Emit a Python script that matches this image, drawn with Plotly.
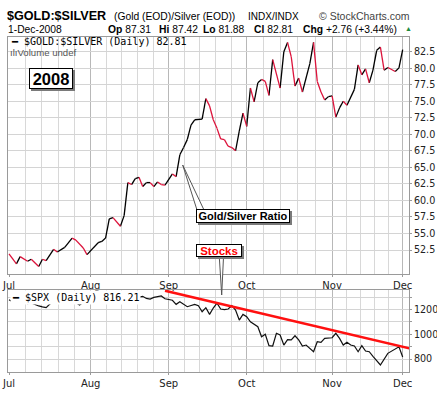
import plotly.graph_objects as go

# ---------------- data ----------------
month_labels = ["Jul", "Aug", "Sep", "Oct", "Nov", "Dec"]
month_start_day = [0, 22, 43, 64, 87, 106]   # trading-day index of first session of month

ratio_day = [0, 2, 3, 5, 6, 8, 9, 10, 12, 13,
             15, 17, 18, 20, 21, 24, 25, 26, 27, 28,
             30, 31, 32, 33, 34, 35, 36, 37, 38, 39,
             40, 41, 42, 44, 45, 46, 47, 48, 49, 50,
             52, 53, 54, 55, 56, 57, 58, 59, 60, 61,
             62, 63, 64, 65, 66, 67, 68, 69, 70, 71,
             73, 74, 75, 76, 77, 78, 79, 81, 82, 83,
             84, 85, 86, 87, 88, 89, 90, 91, 93, 94,
             95, 96, 97, 98, 99, 100, 101, 102, 104, 105,
             106]
ratio_value = [51.9, 50.4, 51.5, 50.8, 51.1, 50.0, 51.1, 50.9, 52.6, 52.2,
               52.9, 54.3, 54.0, 52.8, 51.8, 53.6, 53.8, 54.3, 57.2, 57.4,
               56.1, 57.7, 62.7, 62.4, 63.3, 63.5, 62.1, 62.7, 62.7, 62.1,
               62.8, 62.4, 62.3, 64.0, 63.6, 66.9, 68.0, 69.2, 71.4, 72.2,
               72.3, 75.4, 74.3, 72.2, 70.9, 69.3, 69.2, 68.2, 68.0, 67.5,
               70.5, 73.2, 71.2, 77.0, 74.9, 77.8, 78.3, 78.0, 75.9, 81.3,
               77.0, 82.5, 83.9, 81.7, 77.3, 78.5, 76.4, 80.7, 83.9, 78.0,
               76.4, 75.2, 75.7, 75.8, 72.6, 74.0, 75.0, 74.4, 76.8, 80.5,
               79.0, 79.9, 77.8, 79.7, 82.7, 83.2, 79.7, 80.1, 79.5, 80.05,
               82.81]

spx_day = list(range(0, 47)) + [48, 50, 51, 52, 53, 54, 55, 56, 57, 58, 59, 60, 61, 62, 63, 64, 65,
                                67, 68, 69, 70, 71, 72, 73, 74, 75, 76, 77, 78, 79, 80,
                                82, 83, 84, 85, 86, 87, 88, 89, 90, 91, 92, 93, 94, 95, 96, 97, 98, 99, 100,
                                102, 104, 105, 106]
spx_value = [1280, 1262, 1263, 1255, 1268, 1248, 1254, 1240, 1229, 1222,
             1216, 1245, 1260, 1261, 1260, 1275, 1280, 1254, 1257, 1236,
             1262, 1282, 1258, 1252, 1263, 1285, 1288, 1268, 1294, 1302,
             1290, 1286, 1292, 1290, 1284, 1300, 1307, 1290, 1285, 1298,
             1303, 1310, 1287, 1280, 1275, 1242, 1263,
             1223, 1242, 1231, 1182, 1215, 1161, 1212, 1252, 1204, 1200, 1204, 1231, 1196, 1115, 1161, 1142, 1101,
             1061, 980, 1000, 908, 905, 1008, 994, 913, 957, 955, 988, 954, 905, 913,
             859, 940, 935, 967, 972, 972, 1008, 967, 913, 935, 913, 905, 859, 908, 865, 859, 822, 786, 752,
             846, 881, 899, 816.21]

trend_day = [42, 109]
trend_value = [1352, 878]

ratio_ticks = [52.5, 55.0, 57.5, 60.0, 62.5, 65.0, 67.5, 70.0, 72.5, 75.0, 77.5, 80.0, 82.5]
spx_grid = [800, 900, 1000, 1100, 1200, 1300]
spx_labels = ["800", "", "1000", "", "1200", ""]

header_date = "1-Dec-2008"
ohlc_labels = ["Op", "Hi", "Lo", "Cl"]
ohlc_values = ["87.31", "87.42", "81.88", "82.81"]
chg_text = "+2.76 (+3.44%)"

# ---------------- geometry helpers (pixel -> paper) ----------------
PL, PR, PT, PB = 8, 409, 37, 372
PW, PH = PR - PL, PB - PT


def px(x):
    return (x - PL) / PW


def py(y):
    return (PB - y) / PH


UP_COLOR = "#000000"
DN_COLOR = "#dc143c"


def split_up_down(days, vals):
    ux, uy, dx, dy = [], [], [], []
    for i in range(len(days) - 1):
        sx = [days[i], days[i + 1], None]
        sy = [vals[i], vals[i + 1], None]
        if vals[i + 1] >= vals[i]:
            ux += sx
            uy += sy
        else:
            dx += sx
            dy += sy
    return ux, uy, dx, dy


ux, uy, dx, dy = split_up_down(ratio_day, ratio_value)

fig = go.Figure()
fig.add_trace(go.Scatter(x=ux, y=uy, mode="lines", line=dict(color=UP_COLOR, width=1.3),
                         xaxis="x", yaxis="y", hoverinfo="skip", showlegend=False))
fig.add_trace(go.Scatter(x=dx, y=dy, mode="lines", line=dict(color=DN_COLOR, width=1.3),
                         xaxis="x", yaxis="y", hoverinfo="skip", showlegend=False))
fig.add_trace(go.Scatter(x=spx_day, y=spx_value, mode="lines", line=dict(color="#111111", width=1.2),
                         xaxis="x2", yaxis="y2", hoverinfo="skip", showlegend=False))
fig.add_trace(go.Scatter(x=trend_day, y=trend_value, mode="lines", line=dict(color="#ff1010", width=2.6),
                         xaxis="x2", yaxis="y2", hoverinfo="skip", showlegend=False))

minor_vals = []
for a, b in zip(month_start_day[:-1], month_start_day[1:]):
    minor_vals += [a + (b - a) * k / 5 for k in range(1, 5)]

xtickfont = dict(family="DejaVu Sans", size=10, color="#222")
ytickfont = dict(family="DejaVu Sans", size=9.6, color="#222")
x_common = dict(
    range=[(PL - 9) / 3.714, (PR - 9) / 3.714],
    tickmode="array", tickvals=month_start_day, ticktext=month_labels,
    showgrid=True, gridcolor="#b8b8b8", gridwidth=1,
    minor=dict(tickmode="array", tickvals=minor_vals, showgrid=True, gridcolor="#d8d8d8", gridwidth=1),
    showline=True, mirror=True, linecolor="#9a9a9a", linewidth=1,
    ticks="outside", ticklen=2, tickcolor="#9a9a9a",
    zeroline=False, tickfont=xtickfont, fixedrange=True, automargin=False,
)
y_common = dict(
    side="right", showgrid=True, gridcolor="#d4d4d4", gridwidth=1,
    showline=True, mirror=True, linecolor="#9a9a9a", linewidth=1,
    ticks="outside", ticklen=2, tickcolor="#9a9a9a",
    zeroline=False, tickfont=ytickfont, fixedrange=True, automargin=False,
)

top_dom = [py(274), 1.0]
bot_dom = [0.0, py(290)]

fig.update_layout(
    width=437, height=396,
    margin=dict(l=PL, r=437 - PR, t=PT, b=396 - PB, pad=0, autoexpand=False),
    paper_bgcolor="white", plot_bgcolor="white",
    showlegend=False,
    xaxis=dict(domain=[0, 1], anchor="y", **x_common),
    xaxis2=dict(domain=[0, 1], anchor="y2", matches="x", **x_common),
    yaxis=dict(domain=top_dom, anchor="x", range=[48.87, 84.72],
               tickmode="array", tickvals=ratio_ticks, tickformat=".1f", **y_common),
    yaxis2=dict(domain=bot_dom, anchor="x2", range=[695, 1358],
                tickmode="array", tickvals=spx_grid, ticktext=spx_labels, **y_common),
)

ann = []
shapes = []
HF = "Liberation Sans"


def text(x, y, s, size=10.5, color="#000", family=HF, anchor="left", bg=None, pad=1):
    d = dict(xref="paper", yref="paper", x=px(x), y=py(y), text=s, showarrow=False,
             xanchor=anchor, yanchor="middle", borderpad=pad,
             font=dict(family=family, size=size, color=color))
    if bg:
        d["bgcolor"] = bg
    ann.append(d)


# header row 1
text(5, 16, "<b>$GOLD:$SILVER</b>", size=12.6)
text(112, 16.5, "(Gold (EOD)/Silver (EOD))", size=10.3)
text(246, 16.5, "INDX/INDX", size=10)
text(317, 16.5, "© StockCharts.com", size=10.5, color="#444")
# header row 2
text(6, 29.5, header_date, size=10.3)
ohlc_x = [106, 157, 201, 252]
for xx, lab, val in zip(ohlc_x, ohlc_labels, ohlc_values):
    text(xx, 29.5, f"<b>{lab}</b> {val}", size=10.3)
text(301, 29.5, f"<b>Chg</b> {chg_text}", size=10.3)
text(403, 29, "▲", size=7, color="#1e8a3c")

# in-panel legends
text(10, 41.5, "━ $GOLD:$SILVER (Daily) 82.81", size=10, family="DejaVu Sans Mono", pad=0)
text(9, 52.5, "ılıVolume undef", size=9.6, color="#555", pad=0)
text(10, 297, "━ $SPX (Daily) 816.21", size=10, family="DejaVu Sans Mono", bg="white")


def boxed(x0, y0, x1, y1, s, size, color="#000"):
    # shadow
    shapes.append(dict(type="rect", xref="paper", yref="paper",
                       x0=px(x0 + 2), x1=px(x1 + 2), y0=py(y1 + 2), y1=py(y0 + 2),
                       line=dict(width=0), fillcolor="#7a7a7a", layer="above"))
    ann.append(dict(xref="paper", yref="paper", x=px((x0 + x1) / 2), y=py((y0 + y1) / 2),
                    text=f"<b>{s}</b>", showarrow=False, xanchor="center", yanchor="middle",
                    width=x1 - x0 - 4, height=y1 - y0 - 4, borderpad=1, borderwidth=1,
                    bordercolor="#000", bgcolor="white",
                    font=dict(family=HF, size=size, color=color)))


def pointer(tip, a, b):
    path = (f"M {px(tip[0])},{py(tip[1])} L {px(a[0])},{py(a[1])} "
            f"L {px(b[0])},{py(b[1])} Z")
    shapes.append(dict(type="path", xref="paper", yref="paper", path=path,
                       line=dict(color="#555", width=1), fillcolor="white", layer="above"))


pointer((182.7, 165), (197, 210), (204, 210))
pointer((221.7, 295), (219.3, 257), (223.5, 257))
boxed(29, 68, 73, 89, "2008", 16.5)
boxed(196, 209, 290, 223, "Gold/Silver Ratio", 11)
boxed(196, 244, 242, 257, "Stocks", 11.5, color="#ff0000")

fig.update_layout(annotations=ann, shapes=shapes)
fig.write_html("out.html", config={"displayModeBar": False},
               post_script="document.body.style.margin='0px';")
